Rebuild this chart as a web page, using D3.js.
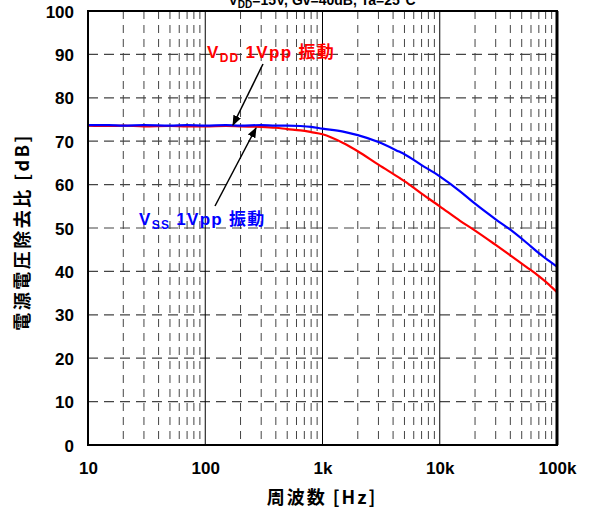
<!DOCTYPE html>
<html><head><meta charset="utf-8">
<script src="https://cdn.jsdelivr.net/npm/d3@7"></script>
<style>
body{margin:0;background:#fff;}
text{font-family:"Liberation Sans",Arial,"Noto Sans CJK JP",sans-serif;font-weight:bold;}
</style></head>
<body><svg id="c" width="589" height="510"></svg>
<script>
const freqs   = [10,15,20,30,50,70,100,150,200,300,400,500,650,800,1000,1500,2000,3000,4500,5000,7000,10000,15000,20000,30000,40000,55000,70000,85000,100000];
const vddPsrr = [73.6,73.5,73.6,73.4,73.5,73.4,73.4,73.5,73.4,73.3,73.1,72.8,72.5,72.1,71.6,69.6,67.7,64.6,61.6,60.8,57.9,55.0,51.6,49.4,46.1,43.7,41.0,38.9,37.0,35.2];
const vssPsrr = [73.7,73.7,73.6,73.7,73.6,73.7,73.6,73.7,73.6,73.7,73.6,73.6,73.5,73.3,72.9,72.2,71.4,69.8,67.6,67.0,64.5,61.9,58.4,55.6,52.0,49.6,46.6,44.2,42.5,41.1];
const xTicks = [10,100,1000,10000,100000];
const xTickLabels = ["10","100","1k","10k","100k"];
const yTicks = [0,10,20,30,40,50,60,70,80,90,100];

const svg = d3.select("#c");
const L=88, R=557, T=11, B=445;
const x = d3.scaleLog().domain([10,100000]).range([L,R]);
const y = d3.scaleLinear().domain([0,100]).range([B,T]);

// minor vertical dashed grid
const minors=[];
for(let d=10; d<100000; d*=10) for(let k=2;k<=9;k++) minors.push(d*k);
svg.append("g").selectAll("line").data(minors).join("line")
  .attr("x1",d=>x(d)).attr("x2",d=>x(d)).attr("y1",T).attr("y2",B)
  .attr("stroke","#444").attr("stroke-width",1).attr("stroke-dasharray","8,6");
// horizontal dashed grid
svg.append("g").selectAll("line").data(yTicks.slice(1,-1)).join("line")
  .attr("x1",L).attr("x2",R).attr("y1",d=>y(d)).attr("y2",d=>y(d))
  .attr("stroke","#444").attr("stroke-width",1.2).attr("stroke-dasharray","10,6");
// decade solid lines
svg.append("g").selectAll("line").data(xTicks.slice(1,-1)).join("line")
  .attr("x1",d=>x(d)).attr("x2",d=>x(d)).attr("y1",T).attr("y2",B)
  .attr("stroke","#000").attr("stroke-width",1);

// curves
const line = (arr)=>d3.line().x((d,i)=>x(freqs[i])).y(d=>y(d)).curve(d3.curveMonotoneX)(arr);
svg.append("path").attr("d",line(vddPsrr)).attr("fill","none").attr("stroke","#ff0000").attr("stroke-width",2.2);
svg.append("path").attr("d",line(vssPsrr)).attr("fill","none").attr("stroke","#0000ff").attr("stroke-width",2.2);

// frame
svg.append("rect").attr("x",L).attr("y",T).attr("width",R-L).attr("height",B-T)
  .attr("fill","none").attr("stroke","#000").attr("stroke-width",2);
svg.append("line").attr("x1",R).attr("x2",R).attr("y1",T).attr("y2",B).attr("stroke","#000").attr("stroke-width",3);

// axes labels
const yAxis = d3.axisLeft(y).tickValues(yTicks).tickSize(0).tickPadding(14);
const gy = svg.append("g").attr("transform",`translate(${L},0)`).call(yAxis);
gy.select(".domain").remove();
gy.selectAll("text").attr("font-size",17).attr("fill","#000").attr("dy","0.36em")
  .style("font-family","'Liberation Sans',Arial,sans-serif").style("font-weight","bold");
const xAxis = d3.axisBottom(x).tickValues(xTicks).tickFormat((d,i)=>xTickLabels[i]).tickSize(0).tickPadding(17);
const gx = svg.append("g").attr("transform",`translate(0,${B})`).call(xAxis);
gx.select(".domain").remove();
gx.selectAll("text").attr("font-size",17).attr("fill","#000")
  .style("font-family","'Liberation Sans',Arial,sans-serif").style("font-weight","bold");

svg.append("text").attr("x",322).attr("y",504).attr("text-anchor","middle").attr("font-size",18)
  .attr("letter-spacing",2)
  .style("font-family","'Noto Sans CJK JP',sans-serif").text("周波数 [Hz]");
svg.append("text").attr("transform","translate(29,232) rotate(-90)").attr("text-anchor","middle").attr("font-size",18)
  .attr("letter-spacing",2.5)
  .style("font-family","'Noto Sans CJK JP',sans-serif").text("電源電圧除去比 [dB]");

// title (clipped at top, as in the reference)
const tt = svg.append("text").attr("x",322).attr("y",5).attr("text-anchor","middle").attr("font-size",14).attr("fill","#000");
tt.append("tspan").text("V");
tt.append("tspan").attr("font-size",10).attr("dy",3).text("DD");
tt.append("tspan").attr("dy",-3).text("=15V, Gv=40dB, Ta=25°C");

// annotations
function label(xp,yp,sub,color){
  const t = svg.append("text").attr("x",xp).attr("y",yp).attr("font-size",17).attr("fill",color).attr("letter-spacing",1.3);
  t.append("tspan").text("V");
  t.append("tspan").attr("font-size",12).attr("dy",4).text(sub);
  t.append("tspan").attr("dy",-4).text(" 1Vpp ");
  t.append("tspan").style("font-family","'Noto Sans CJK JP',sans-serif").text("振動");
}

// arrows
svg.append("defs").append("marker").attr("id","ah").attr("viewBox","0 0 10 10").attr("refX",9).attr("refY",5)
  .attr("markerWidth",7).attr("markerHeight",7).attr("orient","auto")
  .append("path").attr("d","M0,1 L10,5 L0,9 z").attr("fill","#000");
svg.append("line").attr("x1",263).attr("y1",64).attr("x2",233).attr("y2",125)
  .attr("stroke","#000").attr("stroke-width",1.5).attr("marker-end","url(#ah)");
svg.append("line").attr("x1",215).attr("y1",206).attr("x2",256).attr("y2",128)
  .attr("stroke","#000").attr("stroke-width",1.5).attr("marker-end","url(#ah)");

label(207,58,"DD","#ff0000");
label(139,225,"SS","#0000ff");
</script></body></html>
